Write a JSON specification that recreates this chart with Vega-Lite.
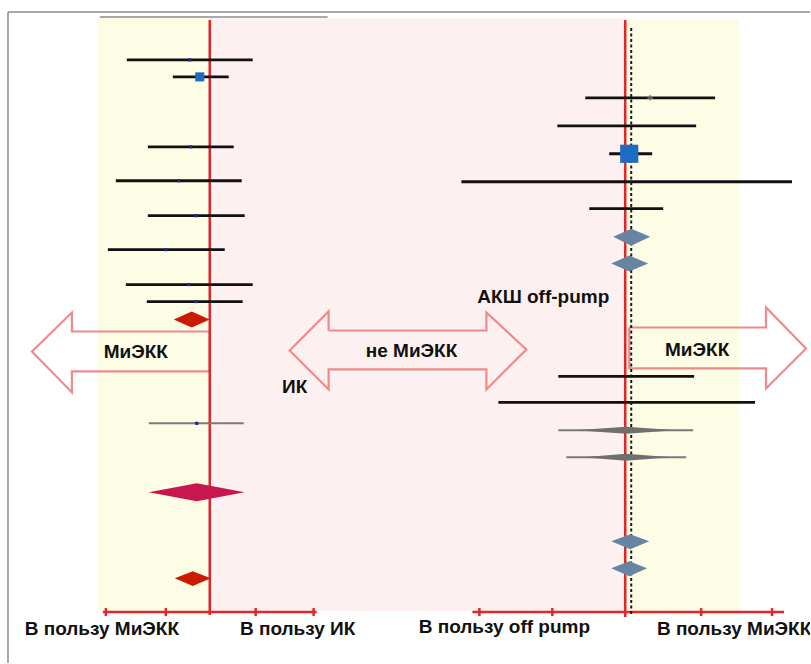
{
  "$schema": "https://vega.github.io/schema/vega-lite/v6.json",
  "width": 811,
  "height": 664,
  "autosize": {"type": "fit", "contains": "padding"},
  "padding": 0,
  "background": "white",
  "config": {"view": {"stroke": null}},
  "datasets": {
    "bg": [
      {"region": "yellow", "x": 97, "x2": 210, "y": 17, "y2": 612},
      {"region": "pink", "x": 210, "x2": 626, "y": 18, "y2": 612},
      {"region": "yellow", "x": 626, "x2": 740, "y": 20, "y2": 613}
    ],
    "lines": [
      {"kind": "frame", "x": 8, "x2": 8, "y": 12, "y2": 664},
      {"kind": "frame", "x": 8, "x2": 811, "y": 12, "y2": 12},
      {"kind": "top", "x": 100, "x2": 328, "y": 17, "y2": 17},
      {"kind": "red", "x": 210, "x2": 210, "y": 20, "y2": 616},
      {"kind": "red", "x": 626, "x2": 626, "y": 20, "y2": 618},
      {"kind": "red", "x": 103, "x2": 317, "y": 613, "y2": 613},
      {"kind": "red", "x": 473, "x2": 785, "y": 613, "y2": 613},
      {"kind": "tick", "x": 106, "x2": 106, "y": 609, "y2": 617},
      {"kind": "tick", "x": 166, "x2": 166, "y": 609, "y2": 617},
      {"kind": "tick", "x": 256, "x2": 256, "y": 609, "y2": 617},
      {"kind": "tick", "x": 314, "x2": 314, "y": 609, "y2": 617},
      {"kind": "tick", "x": 480, "x2": 480, "y": 609, "y2": 617},
      {"kind": "tick", "x": 553, "x2": 553, "y": 609, "y2": 617},
      {"kind": "tick", "x": 702, "x2": 702, "y": 609, "y2": 617},
      {"kind": "tick", "x": 773, "x2": 773, "y": 609, "y2": 617},
      {"kind": "dash", "x": 632, "x2": 632, "y": 28, "y2": 615}
    ],
    "ci": [
      {"y": 60, "lo": 127, "hi": 253, "est": 190, "weight": 2.5, "tone": "black"},
      {"y": 77, "lo": 173, "hi": 229, "est": 200, "weight": 20, "tone": "black"},
      {"y": 147, "lo": 148, "hi": 234, "est": 191, "weight": 2.5, "tone": "black"},
      {"y": 181, "lo": 116, "hi": 242, "est": 179, "weight": 2.5, "tone": "black"},
      {"y": 216, "lo": 148, "hi": 245, "est": 196, "weight": 2.5, "tone": "black"},
      {"y": 250, "lo": 108, "hi": 225, "est": 166, "weight": 2.5, "tone": "black"},
      {"y": 285, "lo": 126, "hi": 253, "est": 189, "weight": 2.5, "tone": "black"},
      {"y": 302, "lo": 147, "hi": 243, "est": 196, "weight": 2.5, "tone": "black"},
      {"y": 424, "lo": 149, "hi": 244, "est": 197, "weight": 2.5, "tone": "grey"},
      {"y": 98, "lo": 586, "hi": 716, "est": 651, "weight": 0, "tone": "black"},
      {"y": 126, "lo": 558, "hi": 697, "est": 627, "weight": 0, "tone": "black"},
      {"y": 154, "lo": 610, "hi": 653, "est": 630, "weight": 80, "tone": "black"},
      {"y": 182, "lo": 462, "hi": 793, "est": 627, "weight": 0, "tone": "black"},
      {"y": 209, "lo": 590, "hi": 664, "est": 625, "weight": 0, "tone": "black"},
      {"y": 377, "lo": 559, "hi": 695, "est": 631, "weight": 0, "tone": "black"},
      {"y": 403, "lo": 499, "hi": 756, "est": 627, "weight": 0, "tone": "black"},
      {"y": 431, "lo": 559, "hi": 694, "est": 627, "weight": 0, "tone": "grey"},
      {"y": 458, "lo": 567, "hi": 687, "est": 627, "weight": 0, "tone": "grey"}
    ],
    "diamonds": [
      {"id": "d1", "group": "red", "x": 174, "top": 320, "bot": 320},
      {"id": "d1", "group": "red", "x": 192, "top": 312, "bot": 328},
      {"id": "d1", "group": "red", "x": 210, "top": 320, "bot": 320},
      {"id": "d2", "group": "crimson", "x": 149, "top": 493, "bot": 493},
      {"id": "d2", "group": "crimson", "x": 197, "top": 484, "bot": 502},
      {"id": "d2", "group": "crimson", "x": 245, "top": 493, "bot": 493},
      {"id": "d3", "group": "red", "x": 175, "top": 579, "bot": 579},
      {"id": "d3", "group": "red", "x": 193, "top": 572, "bot": 587},
      {"id": "d3", "group": "red", "x": 211, "top": 579, "bot": 579},
      {"id": "d4", "group": "steel", "x": 614, "top": 237, "bot": 237},
      {"id": "d4", "group": "steel", "x": 632, "top": 229, "bot": 246},
      {"id": "d4", "group": "steel", "x": 651, "top": 237, "bot": 237},
      {"id": "d5", "group": "steel", "x": 612, "top": 264, "bot": 264},
      {"id": "d5", "group": "steel", "x": 630, "top": 256, "bot": 272},
      {"id": "d5", "group": "steel", "x": 649, "top": 264, "bot": 264},
      {"id": "d6", "group": "steel", "x": 612, "top": 542, "bot": 542},
      {"id": "d6", "group": "steel", "x": 631, "top": 535, "bot": 550},
      {"id": "d6", "group": "steel", "x": 650, "top": 542, "bot": 542},
      {"id": "d7", "group": "steel", "x": 612, "top": 569, "bot": 569},
      {"id": "d7", "group": "steel", "x": 630, "top": 562, "bot": 577},
      {"id": "d7", "group": "steel", "x": 648, "top": 569, "bot": 569},
      {"id": "s1", "group": "spindle", "x": 576, "top": 431, "bot": 431},
      {"id": "s1", "group": "spindle", "x": 627, "top": 427.5, "bot": 434.5},
      {"id": "s1", "group": "spindle", "x": 677, "top": 431, "bot": 431},
      {"id": "s2", "group": "spindle", "x": 583, "top": 458, "bot": 458},
      {"id": "s2", "group": "spindle", "x": 627, "top": 454.5, "bot": 461.5},
      {"id": "s2", "group": "spindle", "x": 672, "top": 458, "bot": 458}
    ],
    "arrowfill": [
      {"i": 1, "x": 32, "top": 352, "bot": 352},
      {"i": 2, "x": 72, "top": 313, "bot": 393},
      {"i": 3, "x": 72.5, "top": 332, "bot": 372},
      {"i": 4, "x": 210, "top": 332, "bot": 372}
    ],
    "arrows": [
      {"a": "L", "i": 1, "x": 210, "y": 332},
      {"a": "L", "i": 2, "x": 72, "y": 332},
      {"a": "L", "i": 3, "x": 72, "y": 313},
      {"a": "L", "i": 4, "x": 32, "y": 352},
      {"a": "L", "i": 5, "x": 72, "y": 393},
      {"a": "L", "i": 6, "x": 72, "y": 372},
      {"a": "L", "i": 7, "x": 210, "y": 372},
      {"a": "L", "i": 8, "x": 210, "y": 332},
      {"a": "M", "i": 1, "x": 329, "y": 331},
      {"a": "M", "i": 2, "x": 487, "y": 331},
      {"a": "M", "i": 3, "x": 487, "y": 313},
      {"a": "M", "i": 4, "x": 527, "y": 350},
      {"a": "M", "i": 5, "x": 487, "y": 390},
      {"a": "M", "i": 6, "x": 487, "y": 370},
      {"a": "M", "i": 7, "x": 329, "y": 370},
      {"a": "M", "i": 8, "x": 329, "y": 390},
      {"a": "M", "i": 9, "x": 290, "y": 351},
      {"a": "M", "i": 10, "x": 329, "y": 312},
      {"a": "M", "i": 11, "x": 329, "y": 331},
      {"a": "R", "i": 1, "x": 630, "y": 328},
      {"a": "R", "i": 2, "x": 767, "y": 328},
      {"a": "R", "i": 3, "x": 767, "y": 308},
      {"a": "R", "i": 4, "x": 807, "y": 349},
      {"a": "R", "i": 5, "x": 767, "y": 389},
      {"a": "R", "i": 6, "x": 767, "y": 369},
      {"a": "R", "i": 7, "x": 630, "y": 369},
      {"a": "R", "i": 8, "x": 630, "y": 328}
    ],
    "labels": [
      {"label": "МиЭКК", "x": 136, "y": 353},
      {"label": "не МиЭКК", "x": 412, "y": 352},
      {"label": "ИК", "x": 295, "y": 388},
      {"label": "АКШ off-pump", "x": 544, "y": 297},
      {"label": "МиЭКК", "x": 698, "y": 351},
      {"label": "В пользу МиЭКК", "x": 102, "y": 630},
      {"label": "В пользу ИК", "x": 298, "y": 630},
      {"label": "В пользу off pump", "x": 505, "y": 628},
      {"label": "В пользу МиЭКК", "x": 735, "y": 630}
    ]
  },
  "encoding": {
    "x": {"type": "quantitative", "scale": {"domain": [0, 811], "nice": false, "zero": false}, "axis": null},
    "y": {"type": "quantitative", "scale": {"domain": [0, 664], "nice": false, "zero": false, "reverse": true}, "axis": null}
  },
  "resolve": {"scale": {"color": "independent", "size": "independent"}},
  "layer": [
    {
      "data": {"name": "bg"},
      "mark": {"type": "rect"},
      "encoding": {
        "x": {"field": "x", "type": "quantitative"},
        "x2": {"field": "x2"},
        "y": {"field": "y", "type": "quantitative"},
        "y2": {"field": "y2"},
        "color": {"field": "region", "type": "nominal", "scale": {"domain": ["yellow", "pink"], "range": ["#fdfde6", "#fdf0f0"]}, "legend": null}
      }
    },
    {
      "data": {"name": "lines"},
      "transform": [{"filter": "datum.kind === 'frame' || datum.kind === 'top'"}],
      "mark": {"type": "rule", "color": "#8c8c8c", "strokeWidth": 1.5},
      "encoding": {
        "x": {"field": "x", "type": "quantitative"},
        "x2": {"field": "x2"},
        "y": {"field": "y", "type": "quantitative"},
        "y2": {"field": "y2"}
      }
    },
    {
      "data": {"name": "arrowfill"},
      "mark": {"type": "area", "orient": "vertical", "color": "white"},
      "encoding": {
        "x": {"field": "x", "type": "quantitative"},
        "y": {"field": "top", "type": "quantitative"},
        "y2": {"field": "bot"},
        "order": {"field": "i", "type": "quantitative"}
      }
    },
    {
      "data": {"name": "arrows"},
      "mark": {"type": "line", "color": "#f08a8a", "strokeWidth": 2.2, "strokeJoin": "miter"},
      "encoding": {
        "x": {"field": "x", "type": "quantitative"},
        "y": {"field": "y", "type": "quantitative"},
        "detail": {"field": "a", "type": "nominal"},
        "order": {"field": "i", "type": "quantitative"}
      }
    },
    {
      "data": {"name": "lines"},
      "transform": [{"filter": "datum.kind === 'red' || datum.kind === 'tick'"}],
      "mark": {"type": "rule", "color": "#e3242b", "strokeWidth": 2.5},
      "encoding": {
        "x": {"field": "x", "type": "quantitative"},
        "x2": {"field": "x2"},
        "y": {"field": "y", "type": "quantitative"},
        "y2": {"field": "y2"}
      }
    },
    {
      "data": {"name": "ci"},
      "transform": [{"filter": "datum.tone === 'black'"}],
      "mark": {"type": "rule", "strokeWidth": 2.8, "color": "#111111"},
      "encoding": {
        "x": {"field": "lo", "type": "quantitative"},
        "x2": {"field": "hi"},
        "y": {"field": "y", "type": "quantitative"}
      }
    },
    {
      "data": {"name": "ci"},
      "transform": [{"filter": "datum.tone === 'grey'"}],
      "mark": {"type": "rule", "strokeWidth": 2, "color": "#7a7a7a"},
      "encoding": {
        "x": {"field": "lo", "type": "quantitative"},
        "x2": {"field": "hi"},
        "y": {"field": "y", "type": "quantitative"}
      }
    },
    {
      "data": {"name": "lines"},
      "transform": [{"filter": "datum.kind === 'dash'"}],
      "mark": {"type": "rule", "color": "#1a1a1a", "strokeWidth": 2, "strokeDash": [3, 2.5]},
      "encoding": {
        "x": {"field": "x", "type": "quantitative"},
        "x2": {"field": "x2"},
        "y": {"field": "y", "type": "quantitative"},
        "y2": {"field": "y2"}
      }
    },
    {
      "data": {"name": "ci"},
      "transform": [{"filter": "datum.weight > 0"}],
      "mark": {"type": "square", "filled": true, "opacity": 1},
      "encoding": {
        "x": {"field": "est", "type": "quantitative"},
        "y": {"field": "y", "type": "quantitative"},
        "size": {"field": "weight", "type": "quantitative", "scale": {"domain": [0, 80], "range": [0, 330]}, "legend": null},
        "color": {"condition": {"test": "datum.weight > 10", "value": "#1c6cc4"}, "value": "#1f2a80"}
      }
    },
    {
      "data": {"name": "ci"},
      "transform": [{"filter": "datum.y === 98"}],
      "mark": {"type": "point", "shape": "cross", "filled": true, "color": "#777777", "size": 30},
      "encoding": {
        "x": {"field": "est", "type": "quantitative"},
        "y": {"field": "y", "type": "quantitative"}
      }
    },
    {
      "data": {"name": "diamonds"},
      "mark": {"type": "area", "orient": "vertical", "opacity": 1},
      "encoding": {
        "x": {"field": "x", "type": "quantitative"},
        "y": {"field": "top", "type": "quantitative"},
        "y2": {"field": "bot"},
        "detail": {"field": "id", "type": "nominal"},
        "color": {"field": "group", "type": "nominal", "scale": {"domain": ["red", "crimson", "steel", "spindle"], "range": ["#cc1a00", "#c8174f", "#6585a2", "#6f6f6f"]}, "legend": null}
      }
    },
    {
      "data": {"name": "labels"},
      "mark": {"type": "text", "font": "Liberation Sans", "fontWeight": "bold", "fontSize": 19, "color": "#111111", "align": "center", "baseline": "middle", "clip": true},
      "encoding": {
        "x": {"field": "x", "type": "quantitative"},
        "y": {"field": "y", "type": "quantitative"},
        "text": {"field": "label"}
      }
    }
  ]
}
